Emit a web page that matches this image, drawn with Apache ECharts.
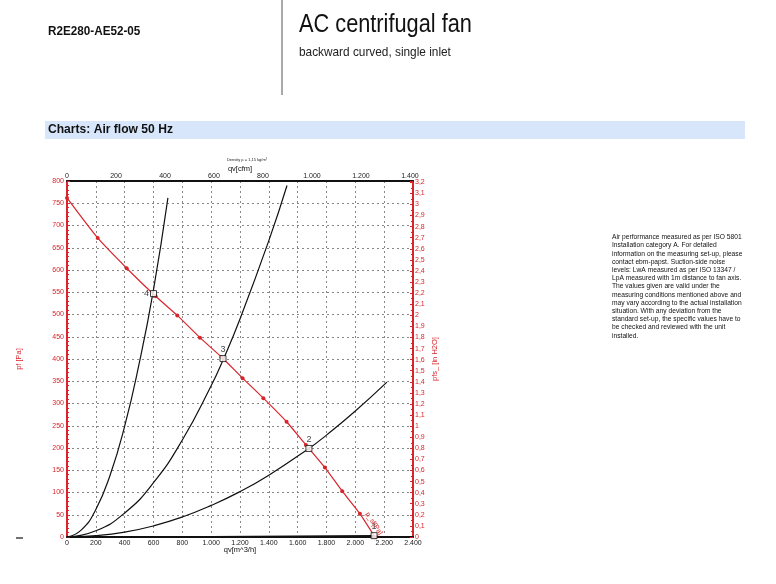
<!DOCTYPE html>
<html>
<head>
<meta charset="utf-8">
<script src="https://cdn.jsdelivr.net/npm/echarts@6/dist/echarts.min.js"></script>
<style>
  html, body { margin: 0; padding: 0; background: #fff; }
  #chart { width: 776px; height: 584px; }
</style>
</head>
<body>
<div id="chart"></div>
<script>
// fan curve: [qv m3/h, pf Pa]
const fanCurve = [
  [0, 762], [213, 672], [414, 604], [615, 541], [765, 498], [922, 448],
  [1073, 404], [1218, 357], [1362, 312], [1523, 259], [1657, 207],
  [1789, 156], [1909, 103], [2032, 52], [2136, 0]
];
// system curves through the operating points
const system4 = [[0, 0], [100, 16], [200, 62], [300, 140], [400, 249], [500, 389], [598, 552], [700, 762]];
const system3 = [[0, 0], [200, 14], [400, 54], [600, 122], [800, 218], [1000, 340], [1084, 399], [1200, 490], [1400, 666], [1526, 790]];
const system2 = [[0, 0], [200, 3], [400, 11], [600, 25], [800, 45], [1000, 71], [1200, 102], [1400, 139], [1678, 199], [1800, 229], [2000, 283], [2219, 348]];
const system1 = [[0, 0], [1000, 1], [2130, 3]];
// operating points
const opNames = ['1', '2', '3', '4'];
const opPoints = [[2130, 3], [1678, 199], [1082, 401], [600, 547]];

const FONT = "'Liberation Sans', Arial, sans-serif";
const RED = '#d8252b';

const dotted = v => {
  if (v < 1000) return String(v);
  return Math.floor(v / 1000) + '.' + String(Math.round(v % 1000)).padStart(3, '0');
};

const chart = echarts.init(document.getElementById('chart'));

const infoLines = [
  'Air performance measured as per ISO 5801',
  'Installation category A. For detailed',
  'information on the measuring set-up, please',
  'contact ebm-papst. Suction-side noise',
  'levels: LwA measured as per ISO 13347 /',
  'LpA measured with 1m distance to fan axis.',
  'The values given are valid under the',
  'measuring conditions mentioned above and',
  'may vary according to the actual installation',
  'situation. With any deviation from the',
  'standard set-up, the specific values have to',
  'be checked and reviewed with the unit',
  'installed.'
];

// narrow text: no condensed font installed, so squeeze horizontally
const narrow = (x, y, text, font, fill, sx) => ({
  type: 'text', x: x, y: y, scaleX: sx, silent: true,
  style: { text: text, font: font, fill: fill }
});

const blackLine = (data) => ({
  type: 'line', xAxisIndex: 0, yAxisIndex: 0, data: data, smooth: true,
  showSymbol: false, symbol: 'none', silent: true,
  lineStyle: { color: '#111', width: 1.2 }, z: 3
});

const opLabelPos = ['top', 'top', 'top', 'left'];
const opLabelOffsets = [[0, 3], [3, 3], [0, 2], [10, -4]];

chart.setOption({
  animation: false,
  backgroundColor: '#fff',
  textStyle: { fontFamily: FONT },
  grid: { left: 67, right: 363, top: 181, bottom: 47 },
  graphic: [
    narrow(48, 25, 'R2E280-AE52-05', 'bold 13px ' + FONT, '#111', 0.9),
    { type: 'line', shape: { x1: 282, y1: 0, x2: 282, y2: 95 }, style: { stroke: '#555', lineWidth: 1 } },
    narrow(299, 13, 'AC centrifugal fan', '25px ' + FONT, '#111', 0.87),
    narrow(299, 46, 'backward curved, single inlet', '13px ' + FONT, '#222', 0.91),
    { type: 'rect', shape: { x: 45, y: 121, width: 700, height: 18 }, style: { fill: '#d7e6fb' } },
    narrow(48, 123, 'Charts: Air flow 50 Hz', 'bold 13px ' + FONT, '#111', 0.93),
    { type: 'text', x: 247, y: 158, silent: true, style: { text: 'Density ρ = 1,15 kg/m³', font: '4px ' + FONT, fill: '#222', textAlign: 'center' } },
    { type: 'line', shape: { x1: 16, y1: 538, x2: 23, y2: 538 }, style: { stroke: '#111', lineWidth: 1.2 } },
    {
      type: 'text', x: 612, y: 233, scaleX: 0.88, silent: true,
      style: { text: infoLines.join('\n'), font: '7.6px ' + FONT, lineHeight: 8.2, fill: '#111' }
    }
  ],
  xAxis: [
    {
      type: 'value', position: 'bottom', min: 0, max: 2400, interval: 200,
      name: 'qv[m^3/h]', nameLocation: 'middle', nameGap: 9, nameMoveOverlap: false,
      nameTextStyle: { fontSize: 7.5, color: '#111' },
      axisLine: { onZero: false, lineStyle: { color: '#111', width: 2 } },
      axisTick: { show: false },
      axisLabel: { fontSize: 7, color: '#222', margin: 3, formatter: dotted },
      splitLine: { show: true, lineStyle: { color: '#888', type: [2, 3], width: 1 } }
    },
    {
      type: 'value', position: 'top', min: 0, max: 1412.6, interval: 200,
      name: 'qv[cfm]', nameLocation: 'middle', nameGap: 8, nameMoveOverlap: false,
      nameTextStyle: { fontSize: 7.5, color: '#111' },
      axisLine: { onZero: false, lineStyle: { color: '#111', width: 2 } },
      axisTick: { show: false },
      axisLabel: { fontSize: 7, color: '#222', margin: 1, formatter: dotted, showMaxLabel: false },
      splitLine: { show: false }
    }
  ],
  yAxis: [
    {
      type: 'value', position: 'left', min: 0, max: 800, interval: 50,
      name: 'pf [Pa]', nameLocation: 'middle', nameGap: 44, nameRotate: 90, nameMoveOverlap: false,
      nameTextStyle: { fontSize: 7.5, color: RED },
      axisLine: { onZero: false, lineStyle: { color: RED, width: 2 } },
      axisTick: { show: true, inside: true, length: 3, lineStyle: { color: RED } },
      minorTick: { show: true, splitNumber: 5, length: 2, lineStyle: { color: RED } },
      axisLabel: { fontSize: 7, color: RED, margin: 3 },
      splitLine: { show: true, lineStyle: { color: '#888', type: [2, 3], width: 1 } }
    },
    {
      type: 'value', position: 'right', min: 0, max: 3.2117, interval: 0.1,
      name: 'pfs_ [in H2O]', nameLocation: 'middle', nameGap: 18, nameRotate: 90, nameMoveOverlap: false,
      nameTextStyle: { fontSize: 7.5, color: RED },
      axisLine: { onZero: false, lineStyle: { color: RED, width: 2 } },
      axisTick: { show: true, inside: true, length: 3, lineStyle: { color: RED } },
      minorTick: { show: true, splitNumber: 2, length: 2, lineStyle: { color: RED } },
      axisLabel: {
        fontSize: 7, color: RED, margin: 2, showMaxLabel: false,
        formatter: v => String(Math.round(v * 10) / 10).replace('.', ',')
      },
      splitLine: { show: false }
    }
  ],
  series: [
    blackLine(system4),
    blackLine(system3),
    blackLine(system2),
    blackLine(system1),
    {
      type: 'line', xAxisIndex: 0, yAxisIndex: 0, smooth: 0.2,
      data: fanCurve.map((p, i) => i === fanCurve.length - 1 ? {
        value: p,
        label: {
          show: true, formatter: 'p_sf[Pa]', rotate: -57, color: RED,
          fontSize: 7, position: 'top', offset: [-6, 1]
        }
      } : p),
      symbol: 'circle', symbolSize: 4, silent: true,
      itemStyle: { color: RED },
      lineStyle: { color: RED, width: 1.2 }, z: 4
    }
  ].concat(opPoints.map((p, i) => ({
    // one scatter per operating point so every number label gets drawn
    type: 'scatter', xAxisIndex: 0, yAxisIndex: 0, silent: true,
    data: [{ value: p, name: opNames[i] }],
    symbol: 'rect', symbolSize: 6,
    itemStyle: { color: '#fff', borderColor: '#111', borderWidth: 1 },
    label: {
      show: true, formatter: '{b}', fontSize: 9, color: '#111',
      position: opLabelPos[i], distance: 1, offset: opLabelOffsets[i]
    },
    labelLayout: { hideOverlap: false },
    z: 6
  })))
});
</script>
</body>
</html>
